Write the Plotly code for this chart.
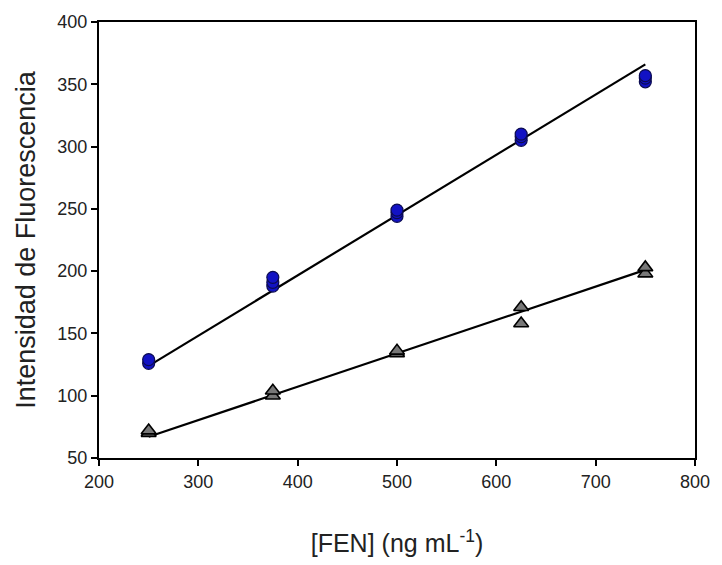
import plotly.graph_objects as go

# Data
conc_blue = [250, 250, 375, 375, 375, 500, 500, 500, 625, 625, 625, 750, 750, 750]
fluor_blue = [126, 129, 188, 191, 195, 244, 247, 249, 305, 308, 310, 352, 355, 357]
conc_gray = [250, 250, 375, 375, 500, 500, 625, 625, 750, 750]
fluor_gray = [70, 72, 100, 104, 134, 136, 158, 171, 198, 203]

# Calibration lines as drawn in the figure (end values)
fit_x = [250, 750]
fit_blue = [124, 366]
fit_gray = [67, 201]

x_ticks = [200, 300, 400, 500, 600, 700, 800]
y_ticks = [50, 100, 150, 200, 250, 300, 350, 400]

FONT = "Liberation Sans, Arial"

fig = go.Figure()

for fy in (fit_blue, fit_gray):
    fig.add_trace(go.Scatter(x=fit_x, y=fy, mode="lines",
                             line=dict(color="black", width=2.2), showlegend=False))

fig.add_trace(go.Scatter(x=conc_blue, y=fluor_blue, mode="markers",
                         marker=dict(symbol="circle", size=12, color="#1212c4",
                                     line=dict(color="#0c0c50", width=1.2)),
                         showlegend=False))
fig.add_trace(go.Scatter(x=conc_gray, y=fluor_gray, mode="markers",
                         marker=dict(symbol="triangle-up", size=13, color="#777777",
                                     line=dict(color="black", width=1.6)),
                         showlegend=False))

axis_common = dict(showline=True, linecolor="black", linewidth=2, mirror=True,
                   ticks="outside", ticklen=6, tickwidth=1.5, tickcolor="black",
                   showgrid=False, zeroline=False,
                   tickfont=dict(family=FONT, size=18, color="#222"))

fig.update_xaxes(range=[200, 800], tickvals=x_ticks, **axis_common,
                 title=dict(text="[FEN] (ng mL<sup>-1</sup>)",
                            font=dict(family=FONT, size=25, color="#222"),
                            standoff=44))
fig.update_yaxes(range=[50, 400], tickvals=y_ticks, **axis_common,
                 title=dict(text="Intensidad de Fluorescencia",
                            font=dict(family=FONT, size=27, color="#222"),
                            standoff=14))

fig.update_layout(width=722, height=565, margin=dict(l=99, r=19, t=19, b=106),
                  plot_bgcolor="white", paper_bgcolor="white")

fig.write_html("out.html")
